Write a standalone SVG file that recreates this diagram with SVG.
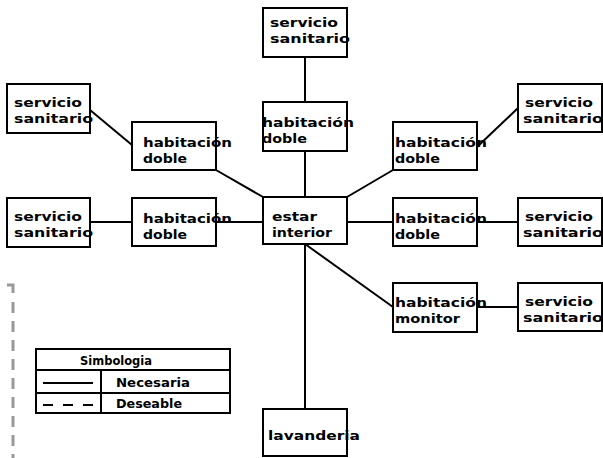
<svg xmlns="http://www.w3.org/2000/svg" width="603" height="458" viewBox="0 0 603 458">
  <style>
    .box { fill: #fff; stroke: #000; stroke-width: 2; }
    .lbl { font-family: "DejaVu Sans", "Liberation Sans", sans-serif; font-weight: bold; font-size: 13px; fill: #000; }
    .leg { font-family: "DejaVu Sans", "Liberation Sans", sans-serif; font-weight: bold; font-size: 12.5px; fill: #000; }
    .link { stroke: #000; stroke-width: 2; fill: none; }
    .edge { fill: none; stroke: #999; stroke-width: 3; }
  </style>
  <rect width="603" height="458" fill="#fff"/>

  <!-- connectors -->
  <g id="connectors" class="link">
    <line x1="305" y1="57" x2="305" y2="102"/>
    <line x1="305" y1="151" x2="305" y2="197"/>
    <line x1="216" y1="170" x2="263" y2="197"/>
    <line x1="90" y1="110" x2="132" y2="145"/>
    <line x1="90" y1="222" x2="132" y2="222"/>
    <line x1="216" y1="222" x2="263" y2="222"/>
    <line x1="347" y1="197" x2="393" y2="170"/>
    <line x1="477" y1="147" x2="518" y2="108"/>
    <line x1="347" y1="222" x2="393" y2="222"/>
    <line x1="477" y1="222" x2="518" y2="222"/>
    <line x1="305" y1="244" x2="393" y2="307"/>
    <line x1="477" y1="307" x2="518" y2="307"/>
    <line x1="305" y1="244" x2="305" y2="409"/>
  </g>

  <!-- rooms -->
  <g id="ss-top">
    <rect class="box" x="263" y="8" width="84" height="49"/>
    <text class="lbl" x="270" y="27" textLength="68" lengthAdjust="spacingAndGlyphs">servicio</text>
    <text class="lbl" x="270" y="43" textLength="80" lengthAdjust="spacingAndGlyphs">sanitario</text>
  </g>
  <g id="hd-top">
    <rect class="box" x="263" y="102" width="84" height="49"/>
    <text class="lbl" x="262" y="127" textLength="92" lengthAdjust="spacingAndGlyphs">habitación</text>
    <text class="lbl" x="262" y="143" textLength="45" lengthAdjust="spacingAndGlyphs">doble</text>
  </g>
  <g id="estar">
    <rect class="box" x="263" y="197" width="84" height="47"/>
    <text class="lbl" x="272" y="221" textLength="45" lengthAdjust="spacingAndGlyphs">estar</text>
    <text class="lbl" x="272" y="237" textLength="60" lengthAdjust="spacingAndGlyphs">interior</text>
  </g>
  <g id="hd-left-upper">
    <rect class="box" x="132" y="122" width="84" height="48"/>
    <text class="lbl" x="143" y="147" textLength="89" lengthAdjust="spacingAndGlyphs">habitación</text>
    <text class="lbl" x="143" y="163" textLength="44" lengthAdjust="spacingAndGlyphs">doble</text>
  </g>
  <g id="ss-left-upper">
    <rect class="box" x="7" y="84" width="83" height="49"/>
    <text class="lbl" x="14" y="107" textLength="68" lengthAdjust="spacingAndGlyphs">servicio</text>
    <text class="lbl" x="14" y="123" textLength="79" lengthAdjust="spacingAndGlyphs">sanitario</text>
  </g>
  <g id="hd-left-lower">
    <rect class="box" x="132" y="198" width="84" height="48"/>
    <text class="lbl" x="143" y="223" textLength="89" lengthAdjust="spacingAndGlyphs">habitación</text>
    <text class="lbl" x="143" y="239" textLength="44" lengthAdjust="spacingAndGlyphs">doble</text>
  </g>
  <g id="ss-left-lower">
    <rect class="box" x="7" y="198" width="83" height="49"/>
    <text class="lbl" x="14" y="221" textLength="68" lengthAdjust="spacingAndGlyphs">servicio</text>
    <text class="lbl" x="14" y="237" textLength="79" lengthAdjust="spacingAndGlyphs">sanitario</text>
  </g>
  <g id="hd-right-upper">
    <rect class="box" x="393" y="122" width="84" height="48"/>
    <text class="lbl" x="395" y="147" textLength="92" lengthAdjust="spacingAndGlyphs">habitación</text>
    <text class="lbl" x="395" y="163" textLength="45" lengthAdjust="spacingAndGlyphs">doble</text>
  </g>
  <g id="ss-right-upper">
    <rect class="box" x="518" y="84" width="84" height="48"/>
    <text class="lbl" x="525" y="107" textLength="68" lengthAdjust="spacingAndGlyphs">servicio</text>
    <text class="lbl" x="523" y="123" textLength="80" lengthAdjust="spacingAndGlyphs">sanitario</text>
  </g>
  <g id="hd-right-lower">
    <rect class="box" x="393" y="198" width="84" height="48"/>
    <text class="lbl" x="395" y="223" textLength="92" lengthAdjust="spacingAndGlyphs">habitación</text>
    <text class="lbl" x="395" y="239" textLength="45" lengthAdjust="spacingAndGlyphs">doble</text>
  </g>
  <g id="ss-right-lower">
    <rect class="box" x="518" y="198" width="84" height="48"/>
    <text class="lbl" x="525" y="221" textLength="68" lengthAdjust="spacingAndGlyphs">servicio</text>
    <text class="lbl" x="523" y="237" textLength="80" lengthAdjust="spacingAndGlyphs">sanitario</text>
  </g>
  <g id="hab-monitor">
    <rect class="box" x="393" y="283" width="84" height="49"/>
    <text class="lbl" x="395" y="307" textLength="92" lengthAdjust="spacingAndGlyphs">habitación</text>
    <text class="lbl" x="395" y="323" textLength="65" lengthAdjust="spacingAndGlyphs">monitor</text>
  </g>
  <g id="ss-right-monitor">
    <rect class="box" x="518" y="283" width="84" height="48"/>
    <text class="lbl" x="525" y="306" textLength="68" lengthAdjust="spacingAndGlyphs">servicio</text>
    <text class="lbl" x="523" y="322" textLength="80" lengthAdjust="spacingAndGlyphs">sanitario</text>
  </g>
  <g id="lavanderia">
    <rect class="box" x="263" y="409" width="84" height="47"/>
    <text class="lbl" x="268" y="440" textLength="92" lengthAdjust="spacingAndGlyphs">lavanderia</text>
  </g>

  <!-- gray dashed boundary at the left -->
  <path class="edge" d="M7 285 H13 V293"/>
  <path class="edge" d="M13 302 V458" stroke-dasharray="11 8"/>

  <!-- legend -->
  <g id="legend">
    <rect x="36" y="349" width="194" height="64" fill="#fff" stroke="#000" stroke-width="2"/>
    <line x1="36" y1="370" x2="230" y2="370" stroke="#000" stroke-width="2"/>
    <line x1="36" y1="393" x2="230" y2="393" stroke="#000" stroke-width="2"/>
    <line x1="101" y1="370" x2="101" y2="413" stroke="#000" stroke-width="2"/>
    <text class="leg" x="80" y="365" textLength="72" lengthAdjust="spacingAndGlyphs">Simbologia</text>
    <line x1="43" y1="383" x2="93" y2="383" stroke="#000" stroke-width="2"/>
    <text class="leg" x="116" y="387" textLength="74" lengthAdjust="spacingAndGlyphs">Necesaria</text>
    <line x1="43" y1="405" x2="93" y2="405" stroke="#000" stroke-width="2" stroke-dasharray="10 10"/>
    <text class="leg" x="116" y="408" textLength="66" lengthAdjust="spacingAndGlyphs">Deseable</text>
  </g>
</svg>
